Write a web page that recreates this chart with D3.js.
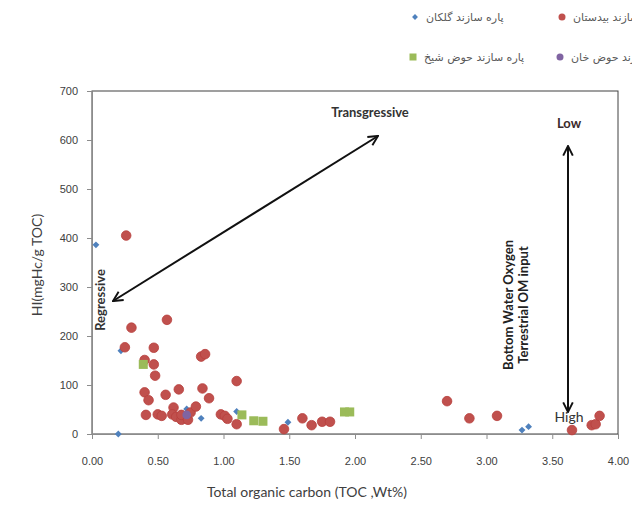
<!DOCTYPE html>
<html>
<head>
<meta charset="utf-8">
<script src="https://cdn.jsdelivr.net/npm/d3@7"></script>
<style>
  body { margin: 0; background: #fff; }
  svg { display: block; font-family: Lato, "Open Sans", sans-serif; }
</style>
</head>
<body>
<svg id="chart" width="632" height="508"></svg>
<script>
var width = 632; // full picture width
var height = 508; // full picture height

// Series data: [TOC, HI]
var golkan = [[0.03, 386], [0.22, 170], [0.20, 0], [0.72, 51], [0.83, 32], [1.10, 46], [1.49, 24], [3.27, 8], [3.32, 15]];
var bidestan = [[0.26, 405], [0.30, 217], [0.57, 233], [0.25, 177], [0.47, 176], [0.40, 151], [0.47, 142], [0.48, 119],
    [0.40, 85], [0.66, 91], [0.56, 80], [0.43, 69], [0.62, 54], [0.41, 39], [0.50, 40], [0.53, 37], [0.61, 40], [0.64, 35],
    [0.68, 29], [0.68, 39], [0.73, 29], [0.75, 44], [0.79, 56], [0.83, 158], [0.86, 163], [1.10, 108], [0.84, 93], [0.89, 73],
    [0.98, 40], [1.01, 37], [1.03, 31], [1.10, 20], [1.46, 10], [1.60, 32], [1.67, 18], [1.75, 25], [1.81, 25], [2.70, 67],
    [2.87, 32], [3.08, 37], [3.65, 8], [3.80, 18], [3.83, 20], [3.86, 37]];
var howzSheikh = [[0.39, 142], [1.14, 39], [1.23, 27], [1.30, 26], [1.92, 45], [1.96, 45]];
var howzKhan = [[0.72, 39]];

var xTicks = [0, 0.5, 1, 1.5, 2, 2.5, 3, 3.5, 4];
var yTicks = [0, 100, 200, 300, 400, 500, 600, 700];

var legendNames = ["پاره سازند گلکان", "پاره سازند بیدستان", "پاره سازند حوض شیخ", "پاره سازند حوض خان"];

var svg = d3.select("#chart");

// scales
var x = d3.scaleLinear().domain([0, 4]).range([92, 618]);
var y = d3.scaleLinear().domain([0, 700]).range([434, 91]);

// plot frame
svg.append("rect")
    .attr("x", x(0)).attr("y", y(700))
    .attr("width", x(4) - x(0)).attr("height", y(0) - y(700))
    .attr("fill", "none").attr("stroke", "#404040").attr("stroke-width", 1);

// x axis
var xAxis = svg.append("g")
    .attr("transform", "translate(0," + y(0) + ")")
    .call(d3.axisBottom(x).tickValues(xTicks).tickFormat(d3.format(".2f")).tickSize(5).tickPadding(18));

// y axis
var yAxis = svg.append("g")
    .attr("transform", "translate(" + x(0) + ",0)")
    .call(d3.axisLeft(y).tickValues(yTicks).tickSize(5).tickPadding(9));

[xAxis, yAxis].forEach(function (g) {
    g.select(".domain").attr("stroke", "#8c8c8c");
    g.selectAll(".tick line").attr("stroke", "#8c8c8c");
    g.selectAll(".tick text").attr("fill", "#404040").style("font-size", "11px");
});

// axis titles
svg.append("text")
    .attr("x", 307).attr("y", 497)
    .attr("text-anchor", "middle")
    .attr("fill", "#404040")
    .style("font-size", "14px")
    .text("Total organic carbon (TOC ,Wt%)");

svg.append("text")
    .attr("transform", "translate(42,265) rotate(-90)")
    .attr("text-anchor", "middle")
    .attr("fill", "#404040")
    .style("font-size", "14px")
    .text("HI(mgHc/g TOC)");

// arrow markers
var defs = svg.append("defs");
defs.append("marker")
    .attr("id", "head")
    .attr("viewBox", "0 0 10 10")
    .attr("refX", 9).attr("refY", 5)
    .attr("markerWidth", 6).attr("markerHeight", 6)
    .attr("markerUnits", "strokeWidth")
    .attr("orient", "auto-start-reverse")
    .append("path")
    .attr("d", "M1,1 L9,5 L1,9")
    .attr("fill", "none").attr("stroke", "#111").attr("stroke-width", 1.6);

// transgressive / regressive arrow
svg.append("line")
    .attr("x1", 113).attr("y1", 301).attr("x2", 378).attr("y2", 136)
    .attr("stroke", "#111").attr("stroke-width", 2)
    .attr("marker-start", "url(#head)").attr("marker-end", "url(#head)");

// oxygen arrow
svg.append("line")
    .attr("x1", 568).attr("y1", 146).attr("x2", 568).attr("y2", 412)
    .attr("stroke", "#111").attr("stroke-width", 2)
    .attr("marker-start", "url(#head)").attr("marker-end", "url(#head)");

// annotations
svg.append("text")
    .attr("x", 370).attr("y", 117)
    .attr("text-anchor", "middle").attr("fill", "#333")
    .style("font-size", "13px").style("font-weight", "bold")
    .text("Transgressive");

svg.append("text")
    .attr("transform", "translate(105,300) rotate(-90)")
    .attr("text-anchor", "middle").attr("fill", "#333")
    .style("font-size", "13px").style("font-weight", "bold")
    .text("Regressive");

svg.append("text")
    .attr("x", 569).attr("y", 128)
    .attr("text-anchor", "middle").attr("fill", "#3a2a2a")
    .style("font-size", "13px").style("font-weight", "bold")
    .text("Low");

svg.append("text")
    .attr("x", 569).attr("y", 422)
    .attr("text-anchor", "middle").attr("fill", "#333")
    .style("font-size", "14px")
    .text("High");

svg.append("text")
    .attr("transform", "translate(513,305) rotate(-90)")
    .attr("text-anchor", "middle").attr("fill", "#222")
    .style("font-size", "13px").style("font-weight", "bold")
    .text("Bottom Water Oxygen");

svg.append("text")
    .attr("transform", "translate(528,305) rotate(-90)")
    .attr("text-anchor", "middle").attr("fill", "#222")
    .style("font-size", "13px").style("font-weight", "bold")
    .text("Terrestrial OM input");

// points
svg.append("g").selectAll("path")
    .data(golkan).enter().append("path")
    .attr("d", d3.symbol().type(d3.symbolDiamond2).size(30))
    .attr("transform", function (d) { return "translate(" + x(d[0]) + "," + y(d[1]) + ")"; })
    .attr("fill", "#4f81bd");

svg.append("g").selectAll("circle")
    .data(bidestan).enter().append("circle")
    .attr("cx", function (d) { return x(d[0]); })
    .attr("cy", function (d) { return y(d[1]); })
    .attr("r", 4.8)
    .attr("fill", "#c0504d").attr("stroke", "#b8403d").attr("stroke-width", 0.8);

svg.append("g").selectAll("rect")
    .data(howzSheikh).enter().append("rect")
    .attr("x", function (d) { return x(d[0]) - 4.5; })
    .attr("y", function (d) { return y(d[1]) - 4.5; })
    .attr("width", 9).attr("height", 9)
    .attr("fill", "#9bbb59");

svg.append("g").selectAll("circle")
    .data(howzKhan).enter().append("circle")
    .attr("cx", function (d) { return x(d[0]); })
    .attr("cy", function (d) { return y(d[1]); })
    .attr("r", 4.3)
    .attr("fill", "#8064a2");

// legend (two rows, runs past the right edge like the original)
var legendPos = [[415, 17], [562, 17], [413, 57], [560, 57]];
var legend = svg.append("g").style("font-family", "Tahoma, 'DejaVu Sans', sans-serif");

legendNames.forEach(function (name, i) {
    var p = legendPos[i];
    if (i === 0) {
        legend.append("path").attr("d", d3.symbol().type(d3.symbolDiamond2).size(22)())
            .attr("transform", "translate(" + p[0] + "," + p[1] + ")").attr("fill", "#4f81bd");
    } else if (i === 1) {
        legend.append("circle").attr("cx", p[0]).attr("cy", p[1]).attr("r", 3.5).attr("fill", "#c0504d");
    } else if (i === 2) {
        legend.append("rect").attr("x", p[0] - 3.5).attr("y", p[1] - 3.5).attr("width", 7).attr("height", 7).attr("fill", "#9bbb59");
    } else {
        legend.append("circle").attr("cx", p[0]).attr("cy", p[1]).attr("r", 3.5).attr("fill", "#8064a2");
    }
    legend.append("text")
        .attr("x", p[0] + 11).attr("y", p[1] + 4)
        .attr("fill", "#595959")
        .style("font-size", "11px")
        .text(name);
});
</script>
</body>
</html>
